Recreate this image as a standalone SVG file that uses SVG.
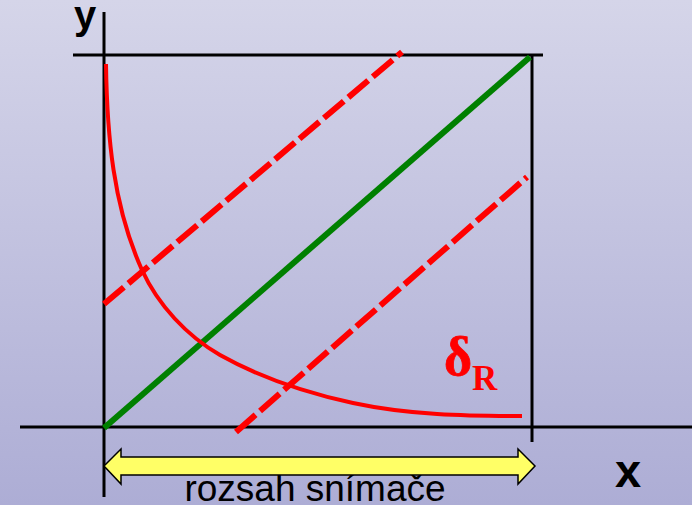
<svg xmlns="http://www.w3.org/2000/svg" width="692" height="505" viewBox="0 0 692 505">
  <defs>
    <linearGradient id="bg" x1="0" y1="0" x2="0" y2="1">
      <stop offset="0" stop-color="#d5d5e9"/>
      <stop offset="1" stop-color="#adadd5"/>
    </linearGradient>
    <style>
      .axis { stroke: #000; stroke-width: 3; fill: none; }
      .dash { stroke: #ff0000; stroke-width: 6; stroke-dasharray: 26 6; fill: none; }
      .lbl { font-family: "Liberation Sans", Arial, sans-serif; fill: #000; }
    </style>
  </defs>
  <rect x="0" y="0" width="692" height="505" fill="url(#bg)"/>
  <g id="axes">
    <line class="axis" x1="73" y1="55" x2="543" y2="55"/>
    <line class="axis" x1="104" y1="12" x2="104" y2="497"/>
    <line class="axis" x1="532" y1="55" x2="532" y2="442"/>
    <line class="axis" x1="20" y1="427" x2="692" y2="427"/>
  </g>
  <g id="connectors">
    <line id="ideal" x1="104" y1="428" x2="530" y2="57" stroke="#008000" stroke-width="6"/>
    <line id="upper" class="dash" x1="104" y1="304" x2="402" y2="52"/>
    <line id="lower" class="dash" x1="236" y1="432" x2="527" y2="177"/>
    <path id="delta-curve" d="M106,64 C107,135 113,206 142,270 C158,305 187,336 220,355 C261,378 307,393 353,403 C409,415 465,416 522,416" fill="none" stroke="#ff0000" stroke-width="4"/>
  </g>
  <g id="range">
    <text class="lbl" x="315" y="501" font-size="37" text-anchor="middle">rozsah snímače</text>
    <path d="M104,466 L121,449 L121,457 L518,457 L518,449 L535,466 L518,484 L518,475 L121,475 L121,484 Z" fill="#ffff66" stroke="#000" stroke-width="1.5" stroke-linejoin="miter"/>
  </g>
  <g id="labels">
    <text class="lbl" x="85" y="29" font-size="40" font-weight="bold" text-anchor="middle">y</text>
    <text class="lbl" x="628" y="487" font-size="47" font-weight="bold" text-anchor="middle">x</text>
    <text x="444" y="375" font-family="'Liberation Serif', 'Times New Roman', serif" font-weight="bold" fill="#ff0000" font-size="54" stroke="#ff0000" stroke-width="0.8">δ<tspan font-size="35" dy="15" stroke-width="0">R</tspan></text>
  </g>
</svg>
